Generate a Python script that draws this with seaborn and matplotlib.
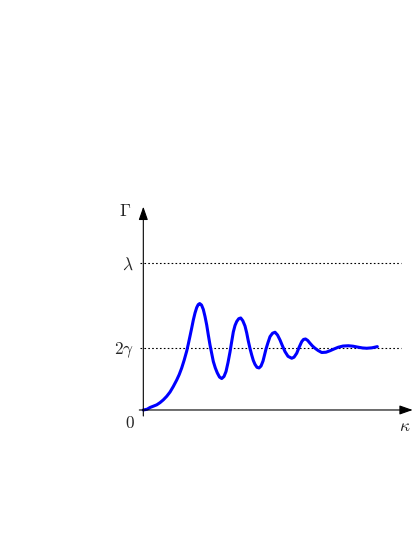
import matplotlib
matplotlib.use("Agg")
import matplotlib.pyplot as plt
import seaborn as sns
import pandas as pd

# curve (kappa in arbitrary units, Gamma with lambda = 1)
KAPPA = [0.000, 0.037, 0.067, 0.097, 0.134, 0.167, 0.200, 0.234, 0.267, 0.300,
         0.334, 0.359, 0.384, 0.409, 0.434, 0.450, 0.467, 0.484, 0.500, 0.517,
         0.534, 0.549, 0.564, 0.582, 0.600, 0.617, 0.634, 0.650, 0.667, 0.684,
         0.700, 0.720, 0.740, 0.762, 0.784, 0.807, 0.827, 0.847, 0.867, 0.884,
         0.900, 0.917, 0.934, 0.954, 0.974, 0.995, 1.017, 1.034, 1.050, 1.067,
         1.084, 1.100, 1.117, 1.137, 1.157, 1.177, 1.197, 1.212, 1.227, 1.247,
         1.267, 1.292, 1.317, 1.342, 1.367, 1.392, 1.417, 1.447, 1.484, 1.507,
         1.534, 1.557, 1.584, 1.602, 1.622, 1.644, 1.667, 1.692, 1.717, 1.747,
         1.784, 1.827, 1.867, 1.907, 1.950, 1.997, 2.050, 2.097, 2.150, 2.192,
         2.234, 2.287, 2.340]
GAMMA = [0.000, 0.005, 0.017, 0.025, 0.035, 0.050, 0.069, 0.093, 0.122, 0.160,
         0.204, 0.241, 0.286, 0.340, 0.401, 0.449, 0.503, 0.558, 0.612, 0.660,
         0.697, 0.717, 0.724, 0.714, 0.684, 0.636, 0.578, 0.510, 0.442, 0.384,
         0.330, 0.286, 0.252, 0.224, 0.214, 0.228, 0.262, 0.323, 0.395, 0.466,
         0.531, 0.575, 0.602, 0.621, 0.626, 0.607, 0.571, 0.524, 0.469, 0.418,
         0.374, 0.337, 0.310, 0.290, 0.286, 0.299, 0.333, 0.374, 0.415, 0.459,
         0.499, 0.522, 0.529, 0.510, 0.476, 0.435, 0.397, 0.365, 0.352, 0.359,
         0.386, 0.425, 0.465, 0.480, 0.483, 0.473, 0.454, 0.435, 0.420, 0.405,
         0.391, 0.393, 0.403, 0.415, 0.427, 0.435, 0.437, 0.434, 0.427, 0.422,
         0.420, 0.423, 0.431]

LEVELS = [0.424, 1.0]
LEVEL_LABELS = [r"$2\gamma$", r"$\lambda$"]

sns.set_style("white")
plt.rcParams["mathtext.fontset"] = "cm"
plt.rcParams["font.family"] = ["DejaVu Serif"]

fig = plt.figure(figsize=(4.15, 5.37), dpi=100)
ax = fig.add_axes([0.3357, 0.2253, 0.6588, 0.3898])

df = pd.DataFrame({"kappa": KAPPA, "Gamma": GAMMA})
sns.lineplot(data=df, x="kappa", y="Gamma", color="blue", linewidth=2.2,
             sort=False, estimator=None, ax=ax, zorder=3,
             solid_joinstyle="round", solid_capstyle="round")

ax.set_xlim(-0.04, 2.694)
ax.set_ylim(-0.041, 1.383)

ax.hlines(LEVELS, -0.033, 2.577, colors="black", linewidth=0.8,
          linestyles=(0, (1.5, 2)), zorder=1)

for s in ax.spines.values():
    s.set_visible(False)

arrow = dict(arrowstyle="-|>,head_length=0.8,head_width=0.28", color="black",
             lw=0.8, shrinkA=0, shrinkB=0)
ytr = ax.get_yaxis_transform()
xtr = ax.get_xaxis_transform()
ax.annotate("", xy=(1, 0), xytext=(0, 0), xycoords=ytr, textcoords=ytr, arrowprops=arrow)
ax.annotate("", xy=(0, 1), xytext=(0, 0), xycoords=xtr, textcoords=xtr, arrowprops=arrow)

ax.set_xticks([])
ax.set_yticks(LEVELS, LEVEL_LABELS)
ax.tick_params(axis="y", length=0, pad=4, labelsize=12.5)
ax.set_xlabel("")
ax.set_ylabel("")

ax.annotate(r"$\Gamma$", xy=(0, 1), xycoords=xtr, xytext=(-18, -5),
            textcoords="offset pixels", ha="center", va="center", fontsize=12.5)
ax.annotate(r"$0$", xy=(0, 0), xycoords="data", xytext=(-13, -14),
            textcoords="offset pixels", ha="center", va="center", fontsize=12.5)
ax.annotate(r"$\kappa$", xy=(1, 0), xycoords=ytr, xytext=(-8, -17),
            textcoords="offset pixels", ha="center", va="center", fontsize=12.5)

fig.savefig("out.png", dpi=100)
